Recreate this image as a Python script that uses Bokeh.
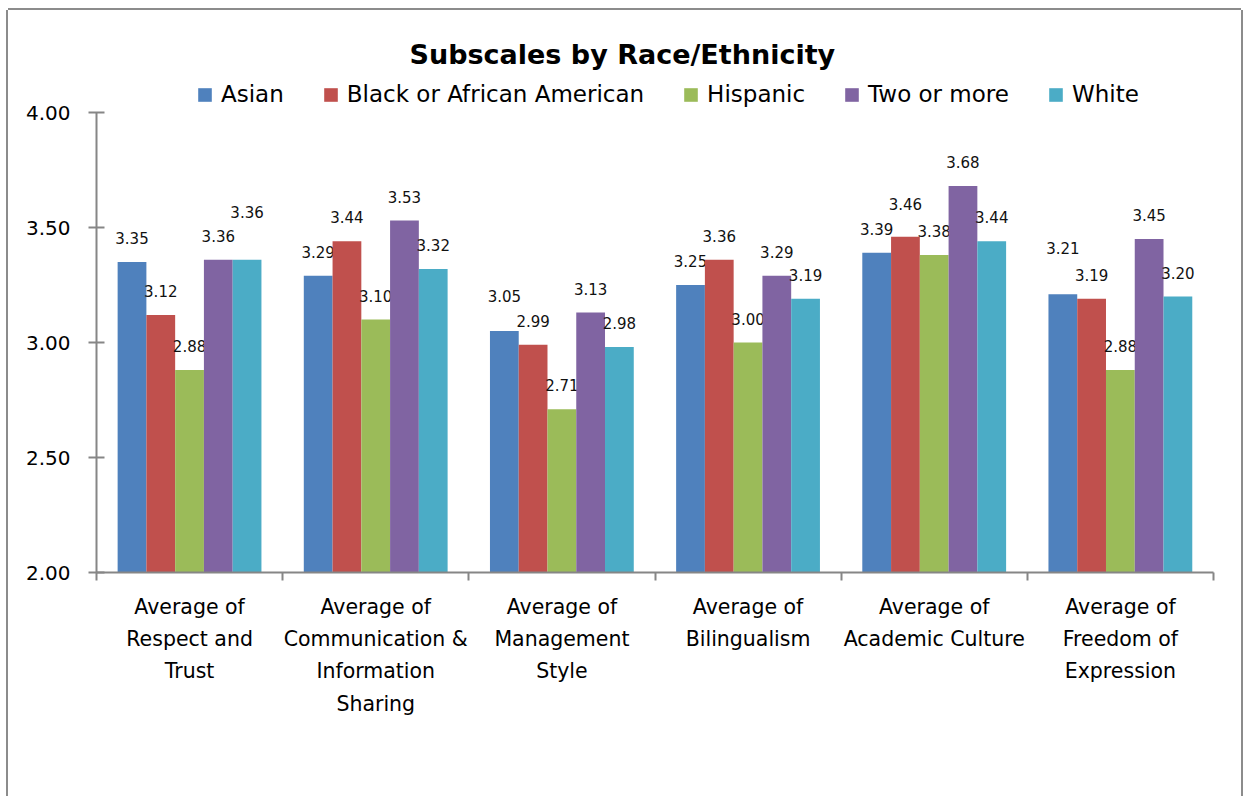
from bokeh.plotting import figure
from bokeh.models import Range1d, FixedTicker, LinearAxis, Legend, LegendItem, ColumnDataSource
from bokeh.core.properties import value
from bokeh.embed import file_html
from bokeh.resources import INLINE

# ---------------- data ----------------
title_text = "Subscales by Race/Ethnicity"
categories = [
    "Average of\nRespect and\nTrust",
    "Average of\nCommunication &\nInformation\nSharing",
    "Average of\nManagement\nStyle",
    "Average of\nBilingualism",
    "Average of\nAcademic Culture",
    "Average of\nFreedom of\nExpression",
]
series_names = ["Asian", "Black or African American", "Hispanic", "Two or more", "White"]
asian = [3.35, 3.29, 3.05, 3.25, 3.39, 3.21]
black = [3.12, 3.44, 2.99, 3.36, 3.46, 3.19]
hispanic = [2.88, 3.10, 2.71, 3.00, 3.38, 2.88]
two_or_more = [3.36, 3.53, 3.13, 3.29, 3.68, 3.45]
white = [3.36, 3.32, 2.98, 3.19, 3.44, 3.20]
y_ticks = [2.0, 2.5, 3.0, 3.5, 4.0]
y_tick_labels = ["2.00", "2.50", "3.00", "3.50", "4.00"]

# ---------------- style ----------------
colors = ["#4F81BD", "#C0504D", "#9BBB59", "#8064A2", "#4BACC6"]
FONT = "DejaVu Sans"
GRAY = "#868686"
# extra upward shift (px) of some data labels, as placed in the original
label_lift = {(4, 0): 24, (0, 2): 11, (1, 4): 9, (0, 5): 22}
GAP = 0.1135
BAR_W = 0.1545

all_series = [asian, black, hispanic, two_or_more, white]
n_cat = len(categories)

p = figure(width=1233, height=786, output_backend="svg", toolbar_location=None,
           x_range=Range1d(0, n_cat), y_range=Range1d(y_ticks[0], y_ticks[0] + 498 / 230),
           min_border_left=88, min_border_right=28, min_border_top=64, min_border_bottom=224,
           x_axis_type=None, y_axis_type=None)
p.outline_line_color = None
p.background_fill_color = "white"
p.border_fill_color = "white"
p.styles = {"margin-left": "8px", "margin-top": "10px",
            "box-shadow": "-2px 0 0 0 #8c8c8c, 2px 0 0 0 #8c8c8c, 0 -2px 0 0 #8c8c8c"}

# title
p.title.text = title_text
p.title.text_font = FONT
p.title.text_font_size = "27px"
p.title.text_font_style = "bold"
p.title.text_color = "#000000"
p.title.align = "left"
p.title.offset = 313
p.title.standoff = 10

# y axis
yaxis = LinearAxis(ticker=FixedTicker(ticks=y_ticks),
                   major_label_overrides=dict(zip(y_ticks, y_tick_labels)),
                   bounds=(y_ticks[0], y_ticks[-1]),
                   axis_line_color=GRAY, axis_line_width=2,
                   major_tick_line_color=GRAY, major_tick_line_width=2,
                   major_tick_in=8, major_tick_out=8, minor_tick_line_color=None,
                   major_label_standoff=18, major_label_text_font=FONT,
                   major_label_text_font_size="20px", major_label_text_color="#000000")
p.add_layout(yaxis, "left")

# x axis: labels at group centres, tick marks at group boundaries
centers = [i + 0.5 for i in range(n_cat)]
bounds_ticks = [float(i) for i in range(n_cat + 1)]
xaxis = LinearAxis(ticker=FixedTicker(ticks=centers, minor_ticks=bounds_ticks),
                   major_label_overrides=dict(zip(centers, categories)),
                   axis_line_color=GRAY, axis_line_width=2,
                   major_tick_line_color=None, major_tick_in=0, major_tick_out=0,
                   minor_tick_line_color=GRAY, minor_tick_line_width=2,
                   minor_tick_in=0, minor_tick_out=8,
                   major_label_standoff=14, major_label_text_font=FONT,
                   major_label_text_font_size="20.5px", major_label_text_color="#000000",
                   major_label_text_line_height=1.35)
p.add_layout(xaxis, "below")

items = []
for k, (name, vals) in enumerate(zip(series_names, all_series)):
    xs = [i + GAP + BAR_W * (k + 0.5) for i in range(n_cat)]
    yoff = [-(24 + label_lift.get((k, i), 0)) for i in range(n_cat)]
    src = ColumnDataSource(dict(x=xs, top=vals, label=[f"{v:.2f}" for v in vals], yoff=yoff))
    r = p.vbar(x="x", top="top", bottom=y_ticks[0], width=BAR_W, source=src,
               fill_color=colors[k], line_color=None)
    p.text(x="x", y="top", text="label", source=src, y_offset="yoff",
           text_align="center", text_baseline="middle", text_font=value(FONT),
           text_font_size="15px", text_color="#111111")
    items.append(LegendItem(label=name, renderers=[r]))

legend = Legend(items=items, orientation="horizontal", location=(100, 465),
                padding=0, margin=0, spacing=38, glyph_width=17, glyph_height=17,
                label_standoff=8, label_text_font=FONT, label_text_font_size="23px",
                label_text_color="#000000", border_line_color=None, background_fill_alpha=0)
p.add_layout(legend, "center")

open("out.html", "w").write(file_html(p, INLINE))
